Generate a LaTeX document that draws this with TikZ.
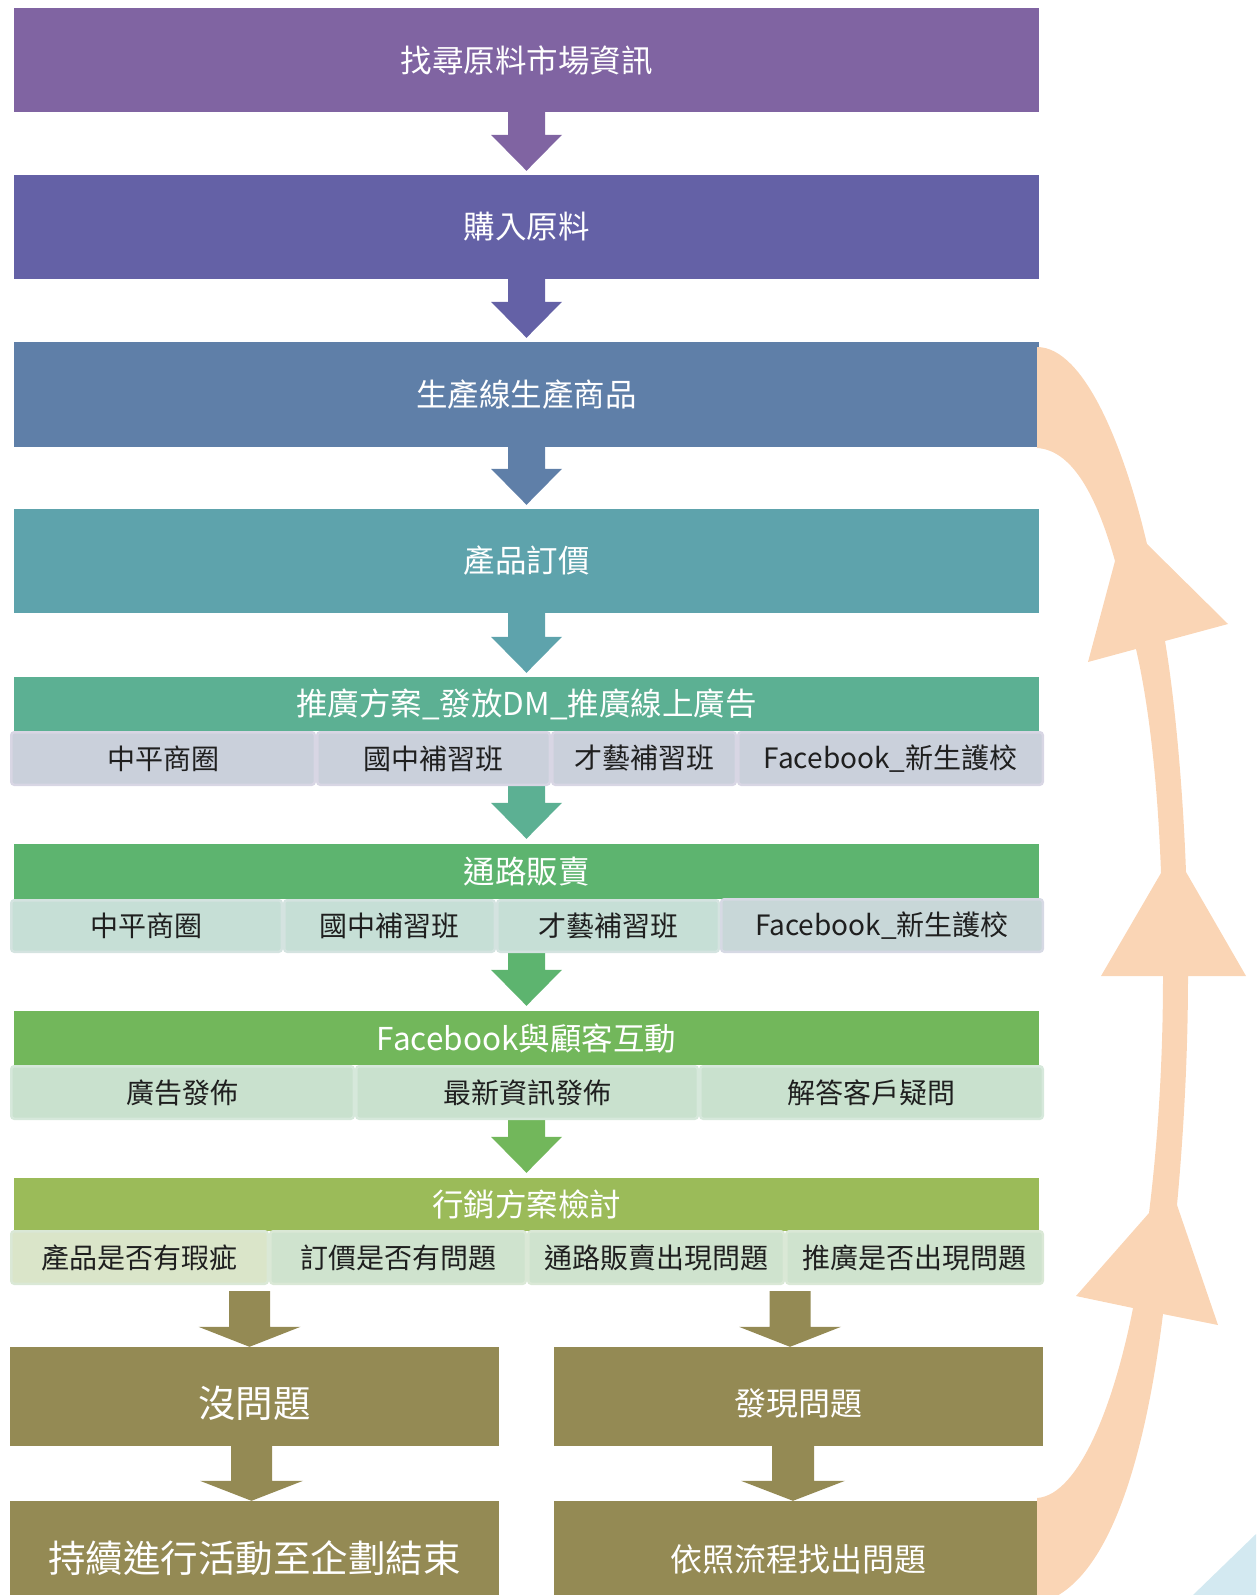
\documentclass[tikz,border=0pt]{standalone}
\usepackage{fontspec}
\setmainfont{Noto Sans CJK TC}
\usetikzlibrary{calc}
\definecolor{c1}{HTML}{8064A2}
\definecolor{c2}{HTML}{6461A6}
\definecolor{c3}{HTML}{5F7FA8}
\definecolor{c4}{HTML}{5EA3AC}
\definecolor{c5}{HTML}{5CB093}
\definecolor{c6}{HTML}{5DB46F}
\definecolor{c7}{HTML}{72B75B}
\definecolor{c8}{HTML}{9BBB59}
\definecolor{olivec}{HTML}{948A54}
\definecolor{orangec}{HTML}{FAD5B5}
\definecolor{cyanc}{HTML}{D3E9F1}
\definecolor{r5}{HTML}{CAD0DB}
\definecolor{r5b}{HTML}{D8D6E4}
\definecolor{r6}{HTML}{C6DFD6}
\definecolor{r6b}{HTML}{D4E3E0}
\definecolor{r6x}{HTML}{C8D7D8}
\definecolor{r6xb}{HTML}{D6D9E4}
\definecolor{r7}{HTML}{C9E1CE}
\definecolor{r7b}{HTML}{D6E8DB}
\definecolor{r8a}{HTML}{DAE5C9}
\definecolor{r8}{HTML}{CFE3CE}
\definecolor{r8b}{HTML}{DAE8D6}
\newcommand\myfs[1]{\fontsize{#1}{#1}\selectfont}
% block arrow: #1 shaft top, #2 tip, #3 colour, #4 shaft half width, #5 head half width, #6 head height
\newcommand\blockarr[6]{%
  \fill[#3] let \p1=(#1), \p2=(#2) in
    (\x2-#4pt,\y1) -- (\x2+#4pt,\y1) -- (\x2+#4pt,\y2+#6pt) -- (\x2+#5pt,\y2+#6pt)
    -- (\x2,\y2) -- (\x2-#5pt,\y2+#6pt) -- (\x2-#4pt,\y2+#6pt) -- cycle;}
% box: name, x1, x2, y1, y2, fill, font size, text
\newcommand\boxnode[8]{%
  \pgfmathsetmacro\bw{#3-#2}\pgfmathsetmacro\bh{#5-#4}%
  \pgfmathsetmacro\bx{(#2+#3)/2}\pgfmathsetmacro\by{(#4+#5)/2}%
  \node[mainbox, fill=#6, font=\myfs{#7}, minimum width=\bw pt, minimum height=\bh pt] (#1) at (\bx,\by) {#8};}
% cell: name, x1, x2, y1, y2, fill, border, text
\newcommand\cellnode[8]{%
  \pgfmathsetmacro\bw{#3-#2-2.5}\pgfmathsetmacro\bh{#5-#4-2.5}%
  \pgfmathsetmacro\bx{(#2+#3)/2}\pgfmathsetmacro\by{(#4+#5)/2}%
  \node[cell, fill=#6, draw=#7, minimum width=\bw pt, minimum height=\bh pt] (#1) at (\bx,\by) {#8};}
\tikzset{
  mainbox/.style={rectangle, inner sep=0pt, text=white},
  cell/.style={rectangle, rounded corners=3pt, line width=2.5pt, inner sep=0pt,
    text=black!88, font=\myfs{28}},
  boxtext/.style={inner sep=0pt, text=white}
}
\begin{document}
\begin{tikzpicture}[x=1pt, y=-1pt]
\useasboundingbox (0,0) rectangle (1256,1595);
\clip (0,0) rectangle (1256,1595);
% main boxes
\boxnode{b1}{14}{1039}{8}{112}{c1}{31.5}{找尋原料市場資訊}
\boxnode{b2}{14}{1039}{175}{279}{c2}{31.5}{購入原料}
\boxnode{b3}{14}{1039}{342}{447}{c3}{31.5}{生產線生產商品}
\boxnode{b4}{14}{1039}{509}{613}{c4}{31.5}{產品訂價}
\boxnode{b5}{14}{1039}{677}{731}{c5}{31.5}{推廣方案\_發放DM\_推廣線上廣告}
\boxnode{b6}{14}{1039}{844}{899}{c6}{31.5}{通路販賣}
\boxnode{b7}{14}{1039}{1011}{1065}{c7}{31.5}{Facebook與顧客互動}
\boxnode{b8}{14}{1039}{1178}{1231}{c8}{31.5}{行銷方案檢討}
% bottom boxes
\boxnode{nop}{10}{499}{1347}{1446}{olivec}{10}{}
\boxnode{fp}{554}{1043}{1347}{1446}{olivec}{10}{}
\boxnode{cont}{10}{499}{1501}{1620}{olivec}{10}{}
\boxnode{fz}{554}{1043}{1501}{1620}{olivec}{10}{}
\node[boxtext, font=\myfs{37.5}] (nopt) at (254.5,1403) {沒問題};
\node[boxtext, font=\myfs{32}] (fpt) at (798.5,1403.5) {發現問題};
\node[boxtext, font=\myfs{37.5}] (contt) at (254.5,1558) {持續進行活動至企劃結束};
\node[boxtext, font=\myfs{32}] (fzt) at (798.5,1559) {依照流程找出問題};
% arrows between main boxes
\blockarr{b1.south}{$(b2.north)+(0,-4)$}{c1}{18.5}{35.5}{36}
\blockarr{b2.south}{$(b3.north)+(0,-4)$}{c2}{18.5}{35.5}{36}
\blockarr{b3.south}{$(b4.north)+(0,-4)$}{c3}{18.5}{35.5}{36}
\blockarr{b4.south}{$(b5.north)+(0,-4)$}{c4}{18.5}{35.5}{36}
\blockarr{b5.south}{$(b6.north)+(0,-5)$}{c5}{18.5}{35.5}{36}
\blockarr{b6.south}{$(b7.north)+(0,-5)$}{c6}{18.5}{35.5}{36}
\blockarr{b7.south}{$(b8.north)+(0,-5)$}{c7}{18.5}{35.5}{36}
% arrows to bottom boxes
\coordinate (q1) at (249,1291);
\coordinate (q2) at (790,1291);
\blockarr{q1}{$(nop.north)+(-5,0)$}{olivec}{20.5}{51}{20}
\blockarr{q2}{$(fp.north)+(-8.5,0)$}{olivec}{20.5}{51}{20}
\blockarr{nop.south}{$(cont.north)+(-3,0)$}{olivec}{20.5}{51.5}{20}
\blockarr{fp.south}{$(fz.north)+(-5.5,0)$}{olivec}{21}{52}{20}
% sub rows
\cellnode{s51}{10}{316}{731}{786}{r5}{r5b}{中平商圈}
\cellnode{s52}{316}{551}{731}{786}{r5}{r5b}{國中補習班}
\cellnode{s53}{551}{737}{731}{786}{r5}{r5b}{才藝補習班}
\cellnode{s54}{737}{1044}{731}{786}{r5}{r5b}{Facebook\_新生護校}
\cellnode{s61}{10}{283}{899}{953}{r6}{r6b}{中平商圈}
\cellnode{s62}{283}{496}{899}{953}{r6}{r6b}{國中補習班}
\cellnode{s63}{496}{720}{899}{953}{r6}{r6b}{才藝補習班}
\cellnode{s64}{720}{1044}{898}{953}{r6x}{r6xb}{Facebook\_新生護校}
\cellnode{s71}{10}{355}{1065}{1120}{r7}{r7b}{廣告發佈}
\cellnode{s72}{355}{699}{1065}{1120}{r7}{r7b}{最新資訊發佈}
\cellnode{s73}{699}{1044}{1065}{1120}{r7}{r7b}{解答客戶疑問}
\cellnode{s81}{10}{269}{1230}{1285}{r8a}{r8b}{產品是否有瑕疵}
\cellnode{s82}{269}{527}{1230}{1285}{r8}{r8b}{訂價是否有問題}
\cellnode{s83}{527}{785}{1230}{1285}{r8}{r8b}{通路販賣出現問題}
\cellnode{s84}{785}{1044}{1230}{1285}{r8}{r8b}{推廣是否出現問題}
% cyan corner
\fill[cyanc] (1193,1595) -- (1256,1534) -- (1256,1600) -- (1190,1600) -- cycle;
% orange return arrow
\fill[orangec] (1037,347) .. controls (1085,347) and (1125,450) .. (1147,544)
 -- (1228,624) -- (1165,641)
 .. controls (1175,700) and (1183,790) .. (1186,872)
 -- (1246,976) -- (1188,976)
 .. controls (1188,1060) and (1183,1140) .. (1177,1205)
 -- (1218,1325) -- (1163,1314)
 .. controls (1145,1460) and (1110,1570) .. (1053,1598)
 -- (1037,1610) -- (1037,1498)
 .. controls (1080,1495) and (1115,1400) .. (1133,1308)
 -- (1076,1296) -- (1149,1213)
 .. controls (1158,1140) and (1163,1060) .. (1163,976)
 -- (1101,976) -- (1161,873)
 .. controls (1158,790) and (1150,710) .. (1136,649)
 -- (1088,662) -- (1115,561)
 .. controls (1095,490) and (1070,450) .. (1037,448)
 -- cycle;
\end{tikzpicture}
\end{document}
